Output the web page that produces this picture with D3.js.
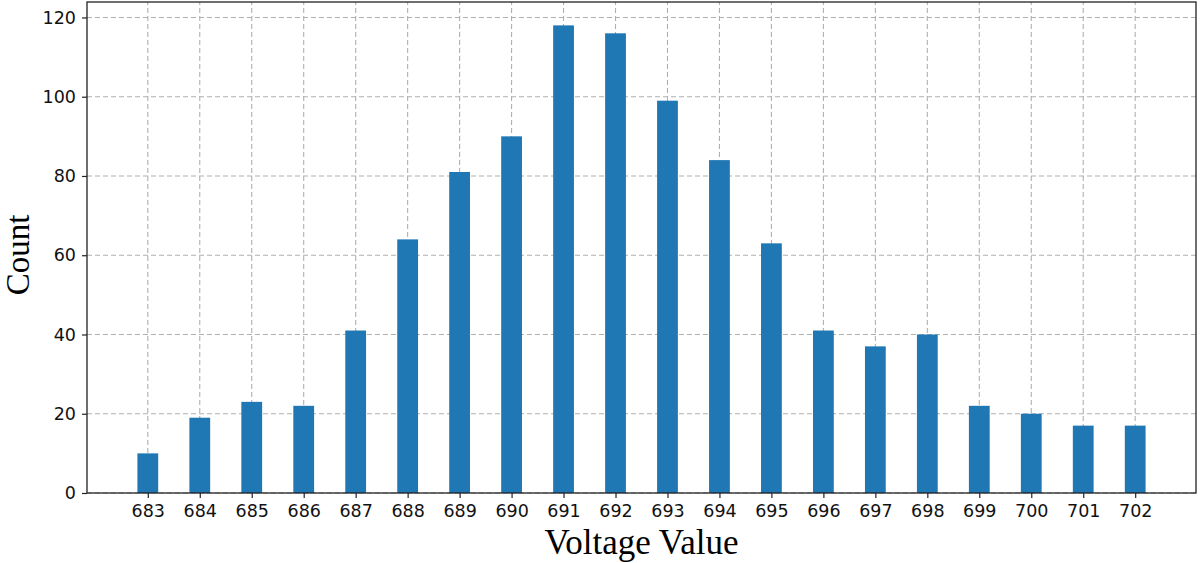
<!DOCTYPE html>
<meta charset="utf-8">
<script src="https://d3js.org/d3.v7.min.js"></script>
<style>
  body { margin: 0; background: #fff; }
</style>
<div id="chart"></div>
<script>
// data
var voltages = [683, 684, 685, 686, 687, 688, 689, 690, 691, 692,
                693, 694, 695, 696, 697, 698, 699, 700, 701, 702];
var counts = [10, 19, 23, 22, 41, 64, 81, 90, 118, 116,
              99, 84, 63, 41, 37, 40, 22, 20, 17, 17];
var yTicks = [0, 20, 40, 60, 80, 100, 120];

var W = 1200, H = 563;
var margin = {top: 2, right: 4, bottom: 70, left: 87};
var barW = 0.4;

var svg = d3.select("#chart").append("svg")
    .attr("width", W).attr("height", H);

// matplotlib style 5% auto margins around the bars
var lo = d3.min(voltages) - barW / 2, hi = d3.max(voltages) + barW / 2;
var pad = (hi - lo) * 0.05;
var x = d3.scaleLinear()
    .domain([lo - pad, hi + pad])
    .range([margin.left, W - margin.right]);
var y = d3.scaleLinear()
    .domain([0, d3.max(counts) * 1.05])
    .range([493, margin.top]);

// grid
var grid = svg.append("g").attr("stroke", "#b0b0b0").attr("stroke-width", 1.1)
    .attr("stroke-dasharray", "5,3");
grid.selectAll(".gx").data(voltages).enter().append("line")
    .attr("x1", d => x(d)).attr("x2", d => x(d))
    .attr("y1", y(0)).attr("y2", margin.top);
grid.selectAll(".gy").data(yTicks).enter().append("line")
    .attr("x1", x.range()[0]).attr("x2", x.range()[1])
    .attr("y1", d => y(d)).attr("y2", d => y(d));

// bars
svg.append("g").selectAll("rect").data(counts).enter().append("rect")
    .attr("x", (d, i) => x(voltages[i] - barW / 2))
    .attr("width", (d, i) => x(voltages[i] + barW / 2) - x(voltages[i] - barW / 2))
    .attr("y", d => y(d))
    .attr("height", d => y(0) - y(d))
    .attr("fill", "#1f77b4");

// axes
var xAxis = svg.append("g").attr("transform", "translate(0," + y(0) + ")")
    .call(d3.axisBottom(x).tickValues(voltages).tickFormat(d3.format("d")).tickSize(5).tickPadding(7));
var yAxis = svg.append("g").attr("transform", "translate(" + x.range()[0] + ",0)")
    .call(d3.axisLeft(y).tickValues(yTicks).tickSize(5).tickPadding(6));
[xAxis, yAxis].forEach(function(a) {
  a.select(".domain").remove();
  a.selectAll("text").attr("font-family", "DejaVu Sans").attr("font-size", 17.5).attr("fill", "#111");
  a.selectAll("line").attr("stroke", "#222").attr("stroke-width", 1.2);
});

// frame
svg.append("rect")
    .attr("x", x.range()[0]).attr("y", margin.top)
    .attr("width", x.range()[1] - x.range()[0])
    .attr("height", y(0) - margin.top)
    .attr("fill", "none").attr("stroke", "#222").attr("stroke-width", 1.3);

// titles
svg.append("text")
    .attr("x", (x.range()[0] + x.range()[1]) / 2).attr("y", 554)
    .attr("text-anchor", "middle")
    .attr("font-family", "Liberation Serif").attr("font-size", 35)
    .text("Voltage Value");
svg.append("text")
    .attr("transform", "translate(29,255) rotate(-90)")
    .attr("text-anchor", "middle")
    .attr("font-family", "Liberation Serif").attr("font-size", 33)
    .text("Count");
</script>
